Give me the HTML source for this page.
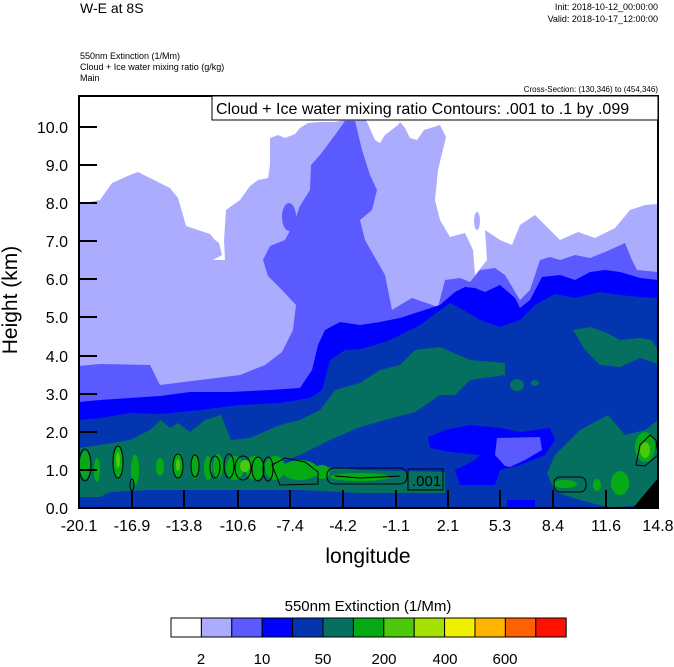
<!DOCTYPE html>
<html><head><meta charset="utf-8"><style>
body{margin:0;background:#fff;width:674px;height:667px;overflow:hidden}
svg{display:block}
text{font-family:"Liberation Sans",Arial,sans-serif;fill:#000}
</style></head><body>
<svg width="674" height="667" viewBox="0 0 674 667" xmlns="http://www.w3.org/2000/svg">
<text x="80" y="13" font-size="14">W-E at 8S</text>
<text x="658" y="10" font-size="9" text-anchor="end">Init: 2018-10-12_00:00:00</text>
<text x="658" y="22" font-size="9" text-anchor="end">Valid: 2018-10-17_12:00:00</text>
<text x="80" y="59" font-size="9">550nm Extinction   (1/Mm)</text>
<text x="80" y="70" font-size="9">Cloud + Ice water mixing ratio   (g/kg)</text>
<text x="80" y="81" font-size="9">Main</text>
<text x="658" y="92" font-size="8" text-anchor="end">Cross-Section: (130,346) to (454,346)</text>
<defs><clipPath id="c"><rect x="79" y="96" width="579" height="412"/></clipPath></defs>
<g clip-path="url(#c)">
<rect x="79" y="96" width="579" height="412" fill="#acacff"/>
<polygon fill="#fff" points="79,96 79,204 100,200 112,183 130,175 138,172 148,177 158,182 170,188 178,198 183,215 186,226 192,228 210,234 215,240 219,243 222,255 213,260 225,260 224,240 226,210 240,200 250,186 258,180 268,178 270,165 270,138 278,135 285,138 295,134 300,128 308,123 320,122 335,122 345,120 350,96"/>
<polygon fill="#fff" points="358,96 360,112 367,122 375,140 380,143 385,135 398,125 400,122 405,128 410,138 417,140 424,130 440,125 446,137 438,170 435,200 440,220 450,237 465,233 473,250 475,275 487,260 485,230 500,240 512,245 520,225 535,215 550,230 560,240 578,232 595,238 615,228 630,210 645,205 658,204 658,96"/>
<ellipse cx="477" cy="221" rx="3" ry="9" fill="#acacff"/>
<polygon fill="#5a5aff" points="79,508 79,366 100,364 150,365 160,385 200,380 240,375 265,365 282,352 293,330 296,305 282,290 268,276 263,260 270,246 285,240 293,225 300,206 310,190 311,165 320,155 335,135 345,121 355,121 362,150 370,175 377,190 372,210 360,220 365,240 385,275 392,310 400,305 412,298 438,307 445,280 460,278 470,282 480,270 495,268 505,275 520,300 530,290 540,260 550,257 560,260 575,255 590,258 605,252 625,243 632,260 637,270 658,272 658,508"/>
<ellipse cx="289" cy="217" rx="7" ry="14" fill="#5a5aff"/>
<polygon fill="#0000ff" points="79,508 79,402 100,400 130,398 160,396 190,392 230,392 270,390 300,388 312,370 318,345 325,330 340,322 360,325 380,322 400,318 440,305 455,292 465,287 475,288 485,292 500,285 515,298 520,308 530,300 542,277 560,275 575,280 590,272 605,270 620,272 640,278 658,280 658,508"/>
<polygon fill="#0335b0" points="79,508 79,420 100,418 130,413 160,414 200,410 240,405 280,403 310,398 322,390 330,360 345,350 360,349 375,345 390,340 420,325 450,303 465,311 480,320 500,327 520,320 535,305 555,294 575,298 600,292 620,295 640,297 658,298 658,508"/>
<polygon fill="#057060" points="79,448 100,445 130,440 150,430 161,420 170,428 178,423 190,432 205,420 221,415 231,440 250,438 280,425 300,420 320,410 335,390 360,383 380,370 400,365 415,350 440,347 470,360 505,363 505,375 470,380 455,395 440,395 415,412 385,420 360,427 330,440 300,455 280,462 360,470 445,472 445,493 360,493 300,490 260,490 200,490 150,490 110,492 100,497 79,497"/>
<ellipse cx="517" cy="385" rx="7" ry="6" fill="#057060"/><ellipse cx="535" cy="383" rx="4" ry="3" fill="#057060"/>
<polygon fill="#057060" points="573,330 590,327 605,332 620,340 640,338 652,340 658,350 658,364 640,358 620,367 600,365 585,350"/>
<polygon fill="#057060" points="547,473 555,455 580,430 608,415 625,435 645,430 658,420 658,478 640,505 610,508 580,500 555,492"/>
<polygon fill="#0000ff" points="428,437 445,430 470,425 500,428 520,432 550,428 555,440 545,455 520,465 500,470 495,485 460,485 455,470 475,460 480,455 450,452 430,448"/>
<polygon fill="#5a5aff" points="497,438 540,437 542,450 525,460 510,467 505,466 495,455"/>
<rect x="507" y="500" width="28" height="8" fill="#0000ff"/>
<polygon fill="#000" points="633,508 658,478 658,508"/>
<g fill="#06aa14">
<ellipse cx="85" cy="465" rx="5" ry="14"/><ellipse cx="97" cy="470" rx="3" ry="12"/><ellipse cx="118" cy="462" rx="5" ry="16"/>
<ellipse cx="135" cy="470" rx="4" ry="15"/><ellipse cx="160" cy="467" rx="4" ry="9"/><ellipse cx="178" cy="466" rx="5" ry="13"/>
<ellipse cx="195" cy="467" rx="4" ry="12"/><ellipse cx="208" cy="468" rx="4" ry="12"/><ellipse cx="218" cy="466" rx="5" ry="12"/>
<ellipse cx="235" cy="468" rx="9" ry="12"/><ellipse cx="255" cy="468" rx="10" ry="12"/><ellipse cx="275" cy="468" rx="10" ry="12"/>
<ellipse cx="300" cy="470" rx="18" ry="10"/><ellipse cx="322" cy="472" rx="8" ry="7"/>
<ellipse cx="360" cy="477" rx="30" ry="4"/><ellipse cx="565" cy="484" rx="12" ry="4"/>
<ellipse cx="597" cy="485" rx="4" ry="6"/><ellipse cx="620" cy="483" rx="9" ry="12"/><ellipse cx="645" cy="447" rx="10" ry="15"/>
</g>
<g fill="#4dc80d"><ellipse cx="118" cy="460" rx="2" ry="8"/><ellipse cx="178" cy="465" rx="2" ry="6"/><ellipse cx="245" cy="466" rx="5" ry="6"/><ellipse cx="645" cy="450" rx="5" ry="8"/></g>
<g fill="none" stroke="#000" stroke-width="1">
<ellipse cx="85" cy="465" rx="6" ry="16"/><ellipse cx="118" cy="462" rx="5" ry="16"/><ellipse cx="132" cy="485" rx="2" ry="6"/>
<ellipse cx="178" cy="466" rx="5" ry="12"/><ellipse cx="195" cy="466" rx="4" ry="11"/><ellipse cx="215" cy="467" rx="5" ry="11"/>
<ellipse cx="229" cy="466" rx="5" ry="12"/><ellipse cx="243" cy="468" rx="8" ry="12"/><ellipse cx="258" cy="469" rx="6" ry="12"/><ellipse cx="268" cy="469" rx="5" ry="12"/>
<path d="M272 465 L285 458 L305 462 L318 472 L318 484 L280 485 Z"/>
<rect x="327" y="468" width="80" height="16" rx="7"/>
<path d="M335 476 L360 478 L400 476"/>
<rect x="408" y="469" width="35" height="21"/>
<rect x="554" y="477" width="32" height="15" rx="6"/>
<path d="M636 465 L640 445 L650 435 L656 440 L658 455 L645 466 Z"/>
</g>
<text x="412" y="486" font-size="15">.001</text>
</g>
<rect x="79" y="96" width="579" height="412" fill="none" stroke="#000" stroke-width="2"/>
<rect x="212" y="96" width="446" height="24" fill="#fff" stroke="#000" stroke-width="1"/>
<text x="216" y="114" font-size="16">Cloud + Ice water mixing ratio Contours: .001 to .1 by .099</text>
<g stroke="#000" stroke-width="2">
<line x1="79" y1="127" x2="97" y2="127"/><line x1="79" y1="165" x2="97" y2="165"/><line x1="79" y1="203" x2="97" y2="203"/>
<line x1="79" y1="241" x2="97" y2="241"/><line x1="79" y1="279" x2="97" y2="279"/><line x1="79" y1="317" x2="97" y2="317"/>
<line x1="79" y1="356" x2="97" y2="356"/><line x1="79" y1="394" x2="97" y2="394"/><line x1="79" y1="432" x2="97" y2="432"/>
<line x1="79" y1="470" x2="97" y2="470"/>
<line x1="132" y1="508" x2="132" y2="490"/><line x1="184" y1="508" x2="184" y2="490"/><line x1="238" y1="508" x2="238" y2="490"/>
<line x1="290" y1="508" x2="290" y2="490"/><line x1="343" y1="508" x2="343" y2="490"/><line x1="396" y1="508" x2="396" y2="490"/>
<line x1="448" y1="508" x2="448" y2="490"/><line x1="500" y1="508" x2="500" y2="490"/><line x1="553" y1="508" x2="553" y2="490"/>
<line x1="606" y1="508" x2="606" y2="490"/>
</g>
<g font-size="16" text-anchor="end">
<text x="68" y="133">10.0</text><text x="68" y="171">9.0</text><text x="68" y="209">8.0</text><text x="68" y="247">7.0</text>
<text x="68" y="285">6.0</text><text x="68" y="323">5.0</text><text x="68" y="362">4.0</text><text x="68" y="400">3.0</text>
<text x="68" y="438">2.0</text><text x="68" y="476">1.0</text><text x="68" y="514">0.0</text>
</g>
<g font-size="16" text-anchor="middle">
<text x="79" y="531">-20.1</text><text x="132" y="531">-16.9</text><text x="184" y="531">-13.8</text><text x="238" y="531">-10.6</text>
<text x="290" y="531">-7.4</text><text x="343" y="531">-4.2</text><text x="396" y="531">-1.1</text><text x="448" y="531">2.1</text>
<text x="500" y="531">5.3</text><text x="553" y="531">8.4</text><text x="606" y="531">11.6</text><text x="658" y="531">14.8</text>
</g>
<text x="368" y="563" font-size="21" text-anchor="middle">longitude</text>
<text transform="translate(17,300) rotate(-90)" font-size="21" text-anchor="middle">Height (km)</text>
<text x="368" y="611" font-size="15" text-anchor="middle">550nm Extinction  (1/Mm)</text>
<g stroke="#000" stroke-width="1">
<rect x="171" y="618" width="30.4" height="19" fill="#ffffff"/><rect x="201.4" y="618" width="30.4" height="19" fill="#acacff"/>
<rect x="231.8" y="618" width="30.4" height="19" fill="#5a5aff"/><rect x="262.2" y="618" width="30.4" height="19" fill="#0000ff"/>
<rect x="292.6" y="618" width="30.4" height="19" fill="#0335b0"/><rect x="323" y="618" width="30.4" height="19" fill="#057060"/>
<rect x="353.4" y="618" width="30.4" height="19" fill="#06aa14"/><rect x="383.8" y="618" width="30.4" height="19" fill="#4dc80d"/>
<rect x="414.2" y="618" width="30.4" height="19" fill="#a5e100"/><rect x="444.6" y="618" width="30.4" height="19" fill="#f0f000"/>
<rect x="475" y="618" width="30.4" height="19" fill="#ffb400"/><rect x="505.4" y="618" width="30.4" height="19" fill="#ff6000"/>
<rect x="535.8" y="618" width="30.4" height="19" fill="#ff1000"/>
</g>
<g font-size="15" text-anchor="middle">
<text x="201" y="664">2</text><text x="262" y="664">10</text><text x="323" y="664">50</text>
<text x="384" y="664">200</text><text x="445" y="664">400</text><text x="505" y="664">600</text>
</g>
</svg>
</body></html>
